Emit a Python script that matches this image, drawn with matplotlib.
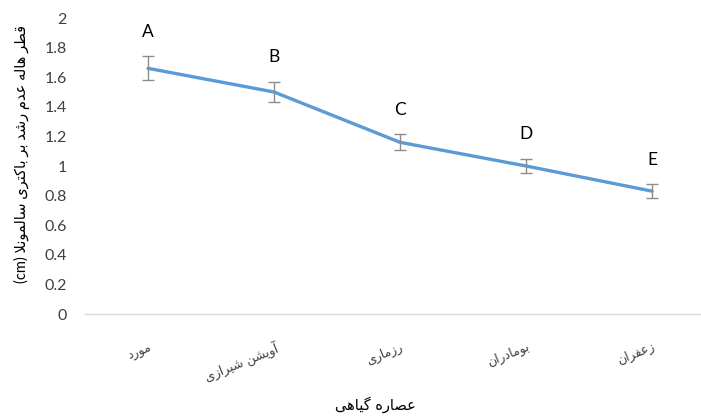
import matplotlib
matplotlib.use("Agg")
import matplotlib.pyplot as plt

# ---- data ----
categories = ["مورد", "آویشن شیرازی", "رزماری", "بومادران", "زعفران"]
values = [1.66, 1.50, 1.16, 1.00, 0.83]
errors = [0.08, 0.07, 0.055, 0.05, 0.045]
groups = ["A", "B", "C", "D", "E"]
y_ticks = [0, 0.2, 0.4, 0.6, 0.8, 1, 1.2, 1.4, 1.6, 1.8, 2]
x_title = "عصاره گیاهی"
y_title = "قطر هاله عدم رشد بر باکتری سالمونلا"
y_unit = "(cm)"

# ---- minimal Arabic/Persian shaping (matplotlib has no complex text layout) ----
FORMS = {
    "\u0622": (0xFE81, 0xFE82, None, None),
    "\u0627": (0xFE8D, 0xFE8E, None, None),
    "\u0628": (0xFE8F, 0xFE90, 0xFE91, 0xFE92),
    "\u062A": (0xFE95, 0xFE96, 0xFE97, 0xFE98),
    "\u062B": (0xFE99, 0xFE9A, 0xFE9B, 0xFE9C),
    "\u062C": (0xFE9D, 0xFE9E, 0xFE9F, 0xFEA0),
    "\u062D": (0xFEA1, 0xFEA2, 0xFEA3, 0xFEA4),
    "\u062E": (0xFEA5, 0xFEA6, 0xFEA7, 0xFEA8),
    "\u062F": (0xFEA9, 0xFEAA, None, None),
    "\u0630": (0xFEAB, 0xFEAC, None, None),
    "\u0631": (0xFEAD, 0xFEAE, None, None),
    "\u0632": (0xFEAF, 0xFEB0, None, None),
    "\u0633": (0xFEB1, 0xFEB2, 0xFEB3, 0xFEB4),
    "\u0634": (0xFEB5, 0xFEB6, 0xFEB7, 0xFEB8),
    "\u0635": (0xFEB9, 0xFEBA, 0xFEBB, 0xFEBC),
    "\u0636": (0xFEBD, 0xFEBE, 0xFEBF, 0xFEC0),
    "\u0637": (0xFEC1, 0xFEC2, 0xFEC3, 0xFEC4),
    "\u0638": (0xFEC5, 0xFEC6, 0xFEC7, 0xFEC8),
    "\u0639": (0xFEC9, 0xFECA, 0xFECB, 0xFECC),
    "\u063A": (0xFECD, 0xFECE, 0xFECF, 0xFED0),
    "\u0641": (0xFED1, 0xFED2, 0xFED3, 0xFED4),
    "\u0642": (0xFED5, 0xFED6, 0xFED7, 0xFED8),
    "\u0644": (0xFEDD, 0xFEDE, 0xFEDF, 0xFEE0),
    "\u0645": (0xFEE1, 0xFEE2, 0xFEE3, 0xFEE4),
    "\u0646": (0xFEE5, 0xFEE6, 0xFEE7, 0xFEE8),
    "\u0647": (0xFEE9, 0xFEEA, 0xFEEB, 0xFEEC),
    "\u0648": (0xFEED, 0xFEEE, None, None),
    "\u067E": (0xFB56, 0xFB57, 0xFB58, 0xFB59),
    "\u0686": (0xFB7A, 0xFB7B, 0xFB7C, 0xFB7D),
    "\u0698": (0xFB8A, 0xFB8B, None, None),
    "\u06A9": (0xFB8E, 0xFB8F, 0xFB90, 0xFB91),
    "\u06AF": (0xFB92, 0xFB93, 0xFB94, 0xFB95),
    "\u06CC": (0xFBFC, 0xFBFD, 0xFBFE, 0xFBFF),
}
LAM_ALEF = {"\u0627": (0xFEFB, 0xFEFC), "\u0622": (0xFEF5, 0xFEF6)}


def dual(c):
    return c in FORMS and FORMS[c][2] is not None


def shape(text):
    out = []
    i = 0
    n = len(text)
    while i < n:
        c = text[i]
        if c not in FORMS:
            out.append(c)
            i += 1
            continue
        prev_joins = i > 0 and dual(text[i - 1])
        if c == "\u0644" and i + 1 < n and text[i + 1] in LAM_ALEF:
            iso, fin = LAM_ALEF[text[i + 1]]
            out.append(chr(fin if prev_joins else iso))
            i += 2
            continue
        next_joins = i + 1 < n and text[i + 1] in FORMS
        iso, fin, ini, med = FORMS[c]
        if prev_joins and next_joins and dual(c):
            out.append(chr(med))
        elif prev_joins:
            out.append(chr(fin))
        elif next_joins and dual(c):
            out.append(chr(ini))
        else:
            out.append(chr(iso))
        i += 1
    return "".join(reversed(out))


# ---- figure ----
fig = plt.figure(figsize=(7.01, 4.19), dpi=100)
W, H = 701, 419
ax = fig.add_axes([85 / W, (H - 314) / H, (700 - 85) / W, (314 - 18) / H])

x = list(range(len(categories)))
line_color = "#5B9BD5"
ax.plot(x, values, color=line_color, lw=2.4, solid_capstyle="round", zorder=3)
ax.errorbar(x, values, yerr=errors, fmt="none", ecolor="#8c8c8c",
            elinewidth=1.0, capsize=4.5, capthick=1.0, zorder=4)

for xi, v, e, g in zip(x, values, errors, groups):
    ax.annotate(g, (xi, v + e), xytext=(0, 12), textcoords="offset points",
                ha="center", va="bottom", fontsize=12.5, family="Lato",
                color="#000000")

ax.set_xlim(-0.5, 4.38)
ax.set_ylim(0, 2)
ax.set_yticks(y_ticks)
ax.set_yticklabels([f"{t:g}" for t in y_ticks], fontsize=11.5, family="Lato",
                   color="#404040")
ax.tick_params(axis="y", length=0, pad=13)

ax.set_xticks(x)
ax.set_xticklabels([shape(c) for c in categories], family="DejaVu Sans",
                   fontsize=9, color="#404040", rotation=22, ha="right",
                   rotation_mode="anchor")
ax.tick_params(axis="x", length=0, pad=19)

for s in ("top", "right", "left"):
    ax.spines[s].set_visible(False)
ax.spines["bottom"].set_color("#d9d9d9")
ax.spines["bottom"].set_linewidth(1.0)

fig.text(375 / W, 1 - 405 / H, shape(x_title), ha="center", va="center",
         family="DejaVu Sans", fontsize=10.5, color="#000000")
fig.text(22 / W, 1 - 154 / H, y_unit + " " + shape(y_title), rotation=90,
         ha="center", va="center", family=["Lato", "DejaVu Sans"],
         fontsize=10.5, color="#000000")

fig.savefig("out.png", dpi=100)
